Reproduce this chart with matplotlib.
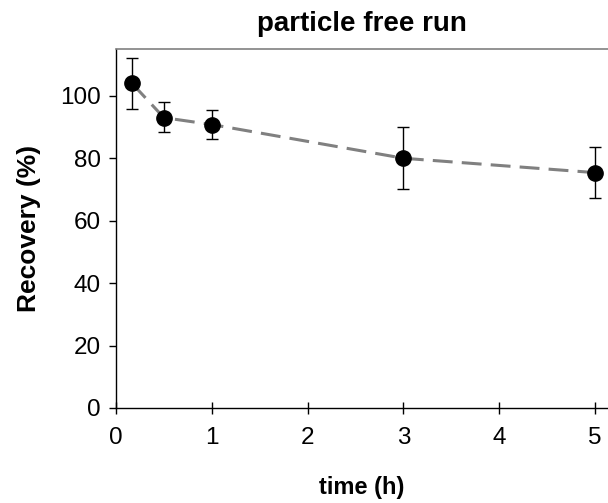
import matplotlib
matplotlib.use("Agg")
import matplotlib.pyplot as plt

plt.rcParams['font.family'] = ['Liberation Sans', 'DejaVu Sans']

time_h = [1/6, 0.5, 1, 3, 5]
recovery = [104.0, 93.0, 90.8, 80.0, 75.4]
err_low = [8.2, 4.7, 4.7, 9.9, 8.0]
err_high = [8.0, 5.1, 4.5, 9.9, 8.3]
x_ticks = [0, 1, 2, 3, 4, 5]
y_ticks = [0, 20, 40, 60, 80, 100]

fig = plt.figure(figsize=(6.08, 5.03), dpi=100)
ax = fig.add_axes([116/608, 1 - 408/503, 1 - 116/608, (408 - 49)/503])

ax.plot(time_h, recovery, color='#808080', lw=2.2, dashes=(6.5, 3), zorder=2)
ax.errorbar(time_h, recovery, yerr=[err_low, err_high], fmt='none',
            ecolor='black', elinewidth=1, capsize=4, capthick=1, zorder=3)
ax.plot(time_h, recovery, 'o', color='black', markersize=11, zorder=4)

ax.set_xlim(0, 5.135)
ax.set_ylim(0, 115)
ax.set_xticks(x_ticks)
ax.set_yticks(y_ticks)
ax.tick_params(axis='y', direction='out', length=5, width=1, labelsize=17.5, pad=6)
ax.tick_params(axis='x', direction='inout', length=8, width=1, labelsize=17.5, pad=10)

ax.spines['right'].set_visible(False)
ax.spines['top'].set_color('#808080')
ax.spines['top'].set_linewidth(1.2)
ax.spines['left'].set_linewidth(1)
ax.spines['bottom'].set_linewidth(1)

ax.set_title('particle free run', fontsize=20, fontweight='bold', pad=13)
ax.set_xlabel('time (h)', fontsize=17, fontweight='bold', labelpad=19)
ax.set_ylabel('Recovery (%)', fontsize=19, fontweight='bold', labelpad=14)

fig.savefig('out.png', dpi=100)
